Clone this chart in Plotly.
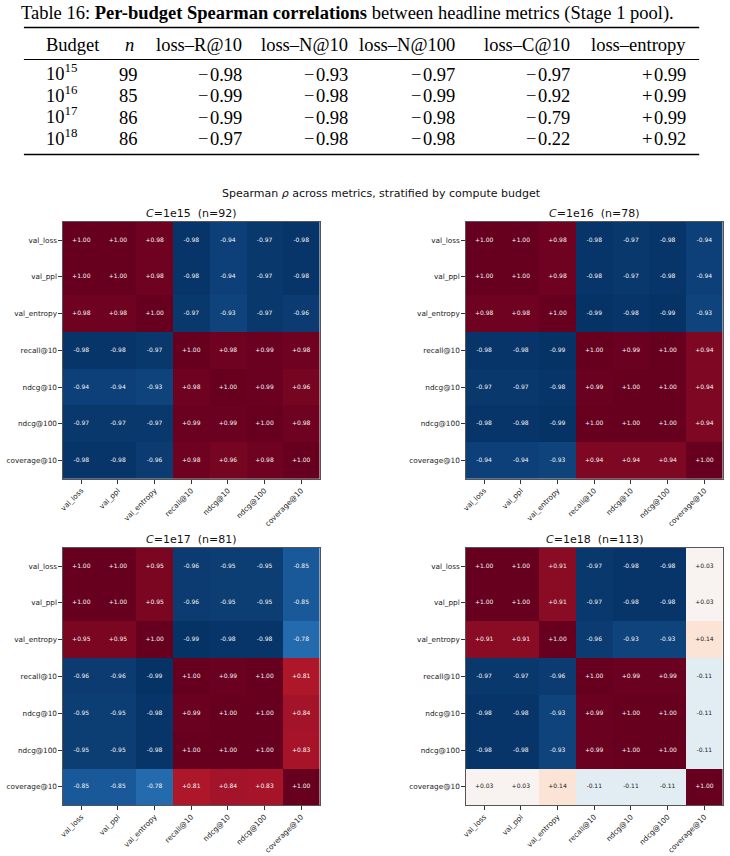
import plotly.graph_objects as go

# ---------------- data ----------------
metrics = ["val_loss", "val_ppl", "val_entropy", "recall@10", "ndcg@10", "ndcg@100", "coverage@10"]

budget_labels = ["1e15", "1e16", "1e17", "1e18"]
budget_n = [92, 78, 81, 113]

rho_1e15 = [
    [1.00, 1.00, 0.98, -0.98, -0.94, -0.97, -0.98],
    [1.00, 1.00, 0.98, -0.98, -0.94, -0.97, -0.98],
    [0.98, 0.98, 1.00, -0.97, -0.93, -0.97, -0.96],
    [-0.98, -0.98, -0.97, 1.00, 0.98, 0.99, 0.98],
    [-0.94, -0.94, -0.93, 0.98, 1.00, 0.99, 0.96],
    [-0.97, -0.97, -0.97, 0.99, 0.99, 1.00, 0.98],
    [-0.98, -0.98, -0.96, 0.98, 0.96, 0.98, 1.00],
]
rho_1e16 = [
    [1.00, 1.00, 0.98, -0.98, -0.97, -0.98, -0.94],
    [1.00, 1.00, 0.98, -0.98, -0.97, -0.98, -0.94],
    [0.98, 0.98, 1.00, -0.99, -0.98, -0.99, -0.93],
    [-0.98, -0.98, -0.99, 1.00, 0.99, 1.00, 0.94],
    [-0.97, -0.97, -0.98, 0.99, 1.00, 1.00, 0.94],
    [-0.98, -0.98, -0.99, 1.00, 1.00, 1.00, 0.94],
    [-0.94, -0.94, -0.93, 0.94, 0.94, 0.94, 1.00],
]
rho_1e17 = [
    [1.00, 1.00, 0.95, -0.96, -0.95, -0.95, -0.85],
    [1.00, 1.00, 0.95, -0.96, -0.95, -0.95, -0.85],
    [0.95, 0.95, 1.00, -0.99, -0.98, -0.98, -0.78],
    [-0.96, -0.96, -0.99, 1.00, 0.99, 1.00, 0.81],
    [-0.95, -0.95, -0.98, 0.99, 1.00, 1.00, 0.84],
    [-0.95, -0.95, -0.98, 1.00, 1.00, 1.00, 0.83],
    [-0.85, -0.85, -0.78, 0.81, 0.84, 0.83, 1.00],
]
rho_1e18 = [
    [1.00, 1.00, 0.91, -0.97, -0.98, -0.98, 0.03],
    [1.00, 1.00, 0.91, -0.97, -0.98, -0.98, 0.03],
    [0.91, 0.91, 1.00, -0.96, -0.93, -0.93, 0.14],
    [-0.97, -0.97, -0.96, 1.00, 0.99, 0.99, -0.11],
    [-0.98, -0.98, -0.93, 0.99, 1.00, 1.00, -0.11],
    [-0.98, -0.98, -0.93, 0.99, 1.00, 1.00, -0.11],
    [0.03, 0.03, 0.14, -0.11, -0.11, -0.11, 1.00],
]
matrices = [rho_1e15, rho_1e16, rho_1e17, rho_1e18]

# table data
table_headers = ["loss–R@10", "loss–N@10", "loss–N@100", "loss–C@10", "loss–entropy"]
table_exponents = [15, 16, 17, 18]
table_n = [99, 85, 86, 86]
table_R10 = [-0.98, -0.99, -0.99, -0.97]
table_N10 = [-0.93, -0.98, -0.98, -0.98]
table_N100 = [-0.97, -0.99, -0.98, -0.98]
table_C10 = [-0.97, -0.92, -0.79, -0.22]
table_entropy = [0.99, 0.99, 0.99, 0.92]

# ---------------- layout helpers ----------------
W, H = 730, 856
def px(x):
    return x / W
def py(y):
    return 1 - y / H

rdbu_r = ["#053061", "#2166ac", "#4393c3", "#92c5de", "#d1e5f0", "#f7f7f7",
          "#fddbc7", "#f4a582", "#d6604d", "#b2182b", "#67001f"]
colorscale = [[i / 10, c] for i, c in enumerate(rdbu_r)]

panels = [
    (59.3, 317.3, 221.7, 479.0),
    (464.3, 722.7, 221.7, 479.0),
    (59.3, 317.3, 547.7, 805.3),
    (464.3, 722.7, 547.7, 805.3),
]

fig = go.Figure()
layout = dict(
    width=W, height=H, margin=dict(l=0, r=0, t=0, b=0),
    paper_bgcolor="white", plot_bgcolor="white", showlegend=False,
    font=dict(family="DejaVu Sans", color="#222"),
)
annotations = []
shapes = []

idx = list(range(len(metrics)))
for i, (mat, lab, n, (x0, x1, y0, y1)) in enumerate(zip(matrices, budget_labels, budget_n, panels)):
    xa = "x" if i == 0 else f"x{i+1}"
    ya = "y" if i == 0 else f"y{i+1}"
    fig.add_trace(go.Heatmap(
        z=mat, x=idx, y=idx, xaxis=xa, yaxis=ya,
        colorscale=colorscale, zmin=-1, zmax=1, showscale=False,
        hoverinfo="skip",
    ))
    xs, ys, txt, cols = [], [], [], []
    for r in range(len(metrics)):
        for c in range(len(metrics)):
            v = mat[r][c]
            xs.append(c); ys.append(r)
            txt.append(f"{v:+.2f}")
            cols.append("#f4f4f4" if abs(v) > 0.5 else "#1a1a1a")
    fig.add_trace(go.Scatter(
        x=xs, y=ys, mode="text", text=txt, xaxis=xa, yaxis=ya,
        textfont=dict(size=6, color=cols, family="DejaVu Sans"),
        hoverinfo="skip",
    ))
    axkey_x = "xaxis" if i == 0 else f"xaxis{i+1}"
    axkey_y = "yaxis" if i == 0 else f"yaxis{i+1}"
    common = dict(
        tickmode="array", tickvals=idx, ticktext=metrics,
        tickfont=dict(size=7.3, family="DejaVu Sans", color="#222"),
        ticks="outside", ticklen=3.5, tickcolor="#333", tickwidth=0.8,
        showline=True, mirror=True, linecolor="#555", linewidth=1,
        showgrid=False, zeroline=False, fixedrange=True,
    )
    layout[axkey_x] = dict(domain=[px(x0), px(x1)], anchor=ya,
                           range=[-0.5, len(metrics) - 0.5], tickangle=-45, **common)
    layout[axkey_y] = dict(domain=[py(y1), py(y0)], anchor=xa,
                           range=[len(metrics) - 0.5, -0.5], **common)
    annotations.append(dict(
        text=f"<i>C</i>={lab}\u00a0\u00a0(n={n})", xref="paper", yref="paper",
        x=px((x0 + x1) / 2), y=py(y0 - 8.5), xanchor="center", yanchor="middle",
        showarrow=False, font=dict(size=11, family="DejaVu Sans", color="#111"),
    ))

# suptitle
annotations.append(dict(
    text="Spearman <i>ρ</i> across metrics, stratified by compute budget",
    xref="paper", yref="paper", x=px(380), y=py(193.5), xanchor="center", yanchor="middle",
    showarrow=False, font=dict(size=11, family="DejaVu Sans", color="#111"),
))

# ---------------- table ----------------
serif = "Liberation Serif"
tsize = 18.5
annotations.append(dict(
    text="Table 16: <b>Per-budget Spearman correlations</b> between headline metrics (Stage 1 pool).",
    xref="paper", yref="paper", x=px(345), y=py(13), xanchor="center", yanchor="middle",
    showarrow=False, font=dict(size=tsize, family=serif, color="black"),
))
rule_x0, rule_x1 = 20, 699
for yy, wdt in [(27.5, 1.6), (59.5, 1.0), (154.5, 1.6)]:
    shapes.append(dict(type="line", xref="paper", yref="paper",
                       x0=px(rule_x0), x1=px(rule_x1), y0=py(yy), y1=py(yy),
                       line=dict(color="black", width=wdt)))

header_y = 44.5
annotations.append(dict(text="Budget", xref="paper", yref="paper", x=px(40), y=py(header_y),
                        xanchor="left", yanchor="middle", showarrow=False,
                        font=dict(size=tsize, family=serif, color="black")))
annotations.append(dict(text="<i>n</i>", xref="paper", yref="paper", x=px(126.5), y=py(header_y),
                        xanchor="center", yanchor="middle", showarrow=False,
                        font=dict(size=tsize, family=serif, color="black")))
col_right = [241, 348, 455, 571, 688]
for hdr, xr in zip(table_headers, col_right):
    annotations.append(dict(text=hdr, xref="paper", yref="paper", x=px(xr), y=py(header_y),
                            xanchor="right", yanchor="middle", showarrow=False,
                            font=dict(size=tsize, family=serif, color="black")))

row_y = [75, 96.3, 117.6, 139]
value_cols = [table_R10, table_N10, table_N100, table_C10, table_entropy]

def fmt(v):
    s = f"{abs(v):.2f}"
    return ("−" if v < 0 else "+") + "\u200a" + s

for r, yy in enumerate(row_y):
    annotations.append(dict(text=f"10<sup>{table_exponents[r]}</sup>", xref="paper", yref="paper",
                            x=px(40), y=py(yy - 2.5), xanchor="left", yanchor="middle", showarrow=False,
                            font=dict(size=tsize, family=serif, color="black")))
    annotations.append(dict(text=str(table_n[r]), xref="paper", yref="paper",
                            x=px(125), y=py(yy), xanchor="center", yanchor="middle", showarrow=False,
                            font=dict(size=tsize, family=serif, color="black")))
    for vals, xr in zip(value_cols, col_right):
        annotations.append(dict(text=fmt(vals[r]), xref="paper", yref="paper",
                                x=px(xr), y=py(yy), xanchor="right", yanchor="middle", showarrow=False,
                                font=dict(size=tsize, family=serif, color="black")))

layout["annotations"] = annotations
layout["shapes"] = shapes
fig.update_layout(**layout)
fig.write_html("out.html")
